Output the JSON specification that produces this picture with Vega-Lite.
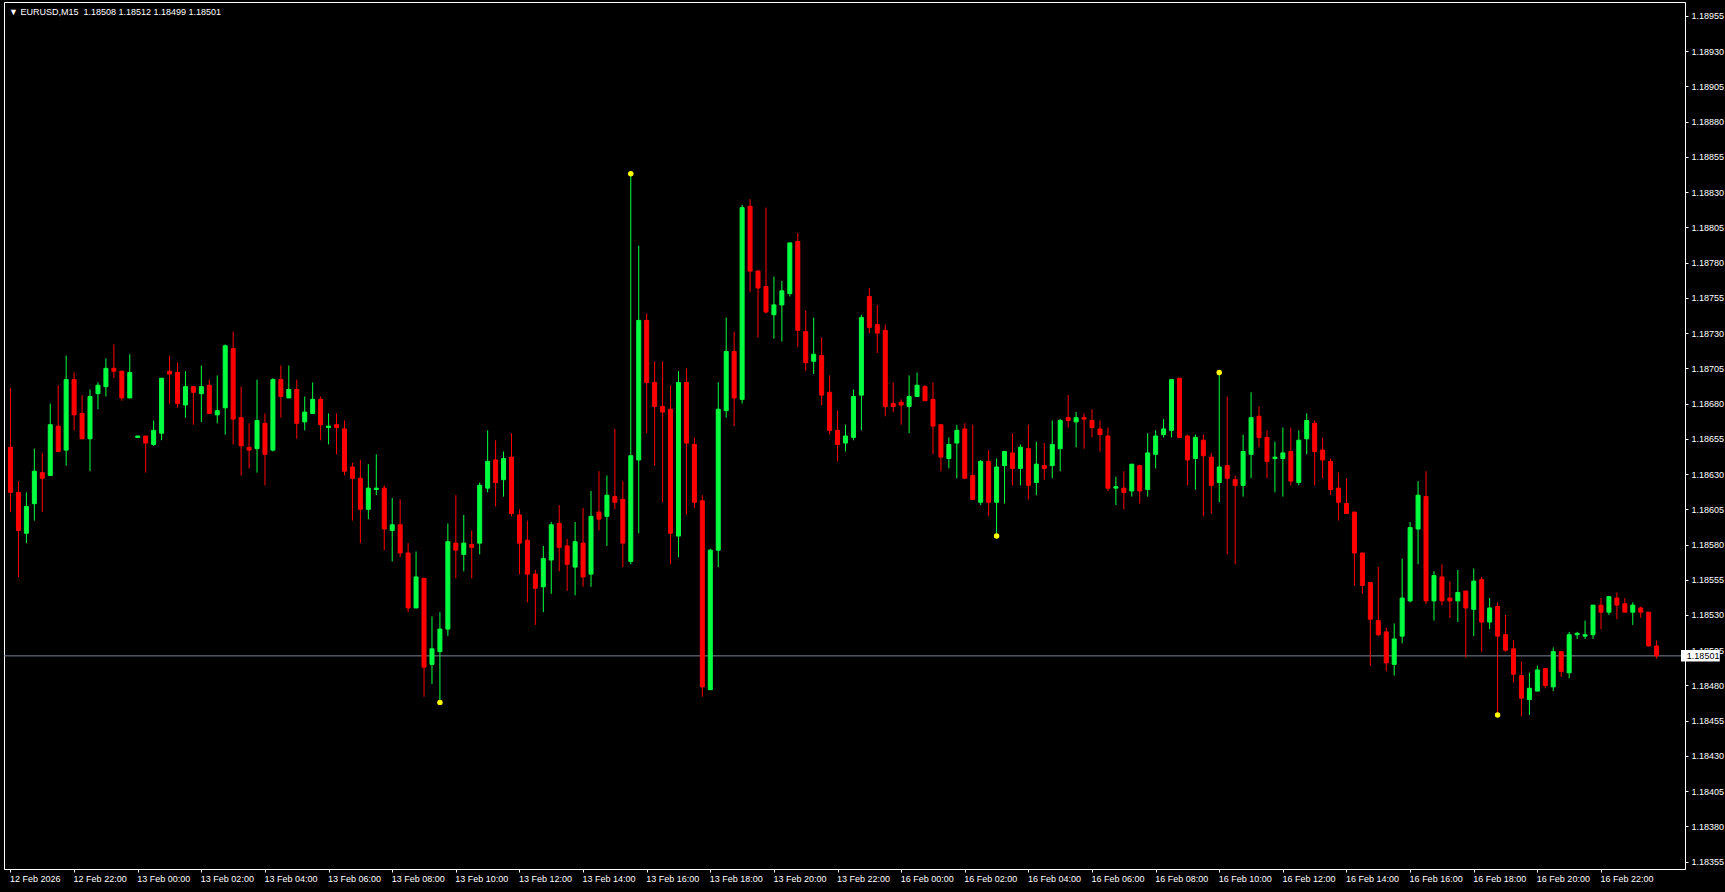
{
"$schema": "https://vega.github.io/schema/vega-lite/v6.json",
"width": 1681, "height": 867,
"autosize": {"type": "none"},
"padding": {"left": 4, "top": 2, "right": 40, "bottom": 23},
"background": "#000000",
"title": {"text": "▼ EURUSD,M15\u00a0\u00a01.18508 1.18512 1.18499 1.18501", "anchor": "start", "frame": "group", "orient": "top", "baseline": "top", "offset": -6, "dx": 5, "dy": 9, "color": "#FFFFFF", "font": "Liberation Sans", "fontSize": 9, "fontWeight": "normal"},
"config": {"view": {"stroke": "#FFFFFF", "strokeWidth": 1}, "axis": {"labelOverlap": false, "labelFlush": false, "labelBound": false, "title": null}},
"datasets": {
"bars": [
{"i":0,"o":1.18649,"h":1.18691,"l":1.18603,"c":1.18617},
{"i":1,"o":1.18617,"h":1.18625,"l":1.18557,"c":1.1859},
{"i":2,"o":1.18588,"h":1.18617,"l":1.18581,"c":1.18607},
{"i":3,"o":1.18609,"h":1.18648,"l":1.18597,"c":1.18632},
{"i":4,"o":1.18631,"h":1.18645,"l":1.18603,"c":1.18627},
{"i":5,"o":1.18629,"h":1.1868,"l":1.18629,"c":1.18665},
{"i":6,"o":1.18664,"h":1.18693,"l":1.18646,"c":1.18646},
{"i":7,"o":1.18647,"h":1.18714,"l":1.18636,"c":1.18697},
{"i":8,"o":1.18697,"h":1.18702,"l":1.18661,"c":1.18672},
{"i":9,"o":1.18673,"h":1.18686,"l":1.18655,"c":1.18655},
{"i":10,"o":1.18655,"h":1.1869,"l":1.18632,"c":1.18685},
{"i":11,"o":1.18687,"h":1.18695,"l":1.18676,"c":1.18693},
{"i":12,"o":1.18692,"h":1.18712,"l":1.18685,"c":1.18705},
{"i":13,"o":1.18705,"h":1.18722,"l":1.18698,"c":1.18703},
{"i":14,"o":1.18703,"h":1.18703,"l":1.18682,"c":1.18684},
{"i":15,"o":1.18684,"h":1.18715,"l":1.18684,"c":1.18702},
{"i":16,"o":1.18656,"h":1.18657,"l":1.18656,"c":1.18657},
{"i":17,"o":1.18657,"h":1.18657,"l":1.18631,"c":1.18652},
{"i":18,"o":1.18651,"h":1.18668,"l":1.1865,"c":1.18661},
{"i":19,"o":1.18659,"h":1.18698,"l":1.18654,"c":1.18698},
{"i":20,"o":1.18703,"h":1.18714,"l":1.1868,"c":1.18701},
{"i":21,"o":1.18702,"h":1.18709,"l":1.18677,"c":1.1868},
{"i":22,"o":1.18679,"h":1.18703,"l":1.1867,"c":1.18692},
{"i":23,"o":1.18692,"h":1.18692,"l":1.18665,"c":1.18688},
{"i":24,"o":1.18687,"h":1.18707,"l":1.18667,"c":1.18692},
{"i":25,"o":1.18693,"h":1.18697,"l":1.18673,"c":1.18673},
{"i":26,"o":1.18672,"h":1.187,"l":1.18666,"c":1.18675},
{"i":27,"o":1.18677,"h":1.18722,"l":1.18658,"c":1.18721},
{"i":28,"o":1.18719,"h":1.18731,"l":1.18651,"c":1.18669},
{"i":29,"o":1.1867,"h":1.18692,"l":1.18629,"c":1.1865},
{"i":30,"o":1.18649,"h":1.18666,"l":1.18634,"c":1.18647},
{"i":31,"o":1.18648,"h":1.18697,"l":1.18631,"c":1.18668},
{"i":32,"o":1.18666,"h":1.18673,"l":1.18622,"c":1.18644},
{"i":33,"o":1.18647,"h":1.18698,"l":1.18646,"c":1.18697},
{"i":34,"o":1.18697,"h":1.18707,"l":1.1867,"c":1.18685},
{"i":35,"o":1.18684,"h":1.18707,"l":1.18684,"c":1.1869},
{"i":36,"o":1.1869,"h":1.18697,"l":1.18655,"c":1.18666},
{"i":37,"o":1.18667,"h":1.18685,"l":1.18661,"c":1.18674},
{"i":38,"o":1.18673,"h":1.18695,"l":1.18673,"c":1.18683},
{"i":39,"o":1.18683,"h":1.18685,"l":1.18654,"c":1.18665},
{"i":40,"o":1.18663,"h":1.18673,"l":1.18651,"c":1.18664},
{"i":41,"o":1.18665,"h":1.18673,"l":1.18644,"c":1.18663},
{"i":42,"o":1.18662,"h":1.18668,"l":1.18629,"c":1.18632},
{"i":43,"o":1.18635,"h":1.18638,"l":1.18597,"c":1.18627},
{"i":44,"o":1.18627,"h":1.1864,"l":1.18581,"c":1.18605},
{"i":45,"o":1.18605,"h":1.18637,"l":1.18598,"c":1.1862},
{"i":46,"o":1.18619,"h":1.18644,"l":1.18615,"c":1.1862},
{"i":47,"o":1.1862,"h":1.18622,"l":1.18576,"c":1.18591},
{"i":48,"o":1.1859,"h":1.18613,"l":1.18568,"c":1.18594},
{"i":49,"o":1.18594,"h":1.18612,"l":1.18571,"c":1.18574},
{"i":50,"o":1.18574,"h":1.18581,"l":1.18532,"c":1.18535},
{"i":51,"o":1.18535,"h":1.18575,"l":1.18535,"c":1.18557},
{"i":52,"o":1.18556,"h":1.18556,"l":1.18472,"c":1.18493},
{"i":53,"o":1.18495,"h":1.18529,"l":1.18481,"c":1.18506},
{"i":54,"o":1.18504,"h":1.18532,"l":1.18468,"c":1.1852},
{"i":55,"o":1.1852,"h":1.18595,"l":1.18515,"c":1.18582},
{"i":56,"o":1.18581,"h":1.18615,"l":1.18556,"c":1.18576},
{"i":57,"o":1.18573,"h":1.18601,"l":1.18561,"c":1.18581},
{"i":58,"o":1.1858,"h":1.1859,"l":1.18556,"c":1.18578},
{"i":59,"o":1.18581,"h":1.18624,"l":1.18573,"c":1.18622},
{"i":60,"o":1.1862,"h":1.18661,"l":1.18617,"c":1.18639},
{"i":61,"o":1.1864,"h":1.18654,"l":1.18607,"c":1.18624},
{"i":62,"o":1.18626,"h":1.18646,"l":1.18614,"c":1.18641},
{"i":63,"o":1.18642,"h":1.18659,"l":1.186,"c":1.18602},
{"i":64,"o":1.18601,"h":1.18605,"l":1.18559,"c":1.18581},
{"i":65,"o":1.18583,"h":1.18597,"l":1.18539,"c":1.18559},
{"i":66,"o":1.18559,"h":1.18562,"l":1.18523,"c":1.18549},
{"i":67,"o":1.1855,"h":1.18579,"l":1.18532,"c":1.1857},
{"i":68,"o":1.18569,"h":1.18596,"l":1.18545,"c":1.18594},
{"i":69,"o":1.18595,"h":1.18608,"l":1.18561,"c":1.18578},
{"i":70,"o":1.18579,"h":1.18584,"l":1.18547,"c":1.18566},
{"i":71,"o":1.18564,"h":1.18596,"l":1.18544,"c":1.18582},
{"i":72,"o":1.18581,"h":1.18606,"l":1.1855,"c":1.18557},
{"i":73,"o":1.18559,"h":1.18618,"l":1.1855,"c":1.186},
{"i":74,"o":1.18603,"h":1.18632,"l":1.1859,"c":1.18598},
{"i":75,"o":1.186,"h":1.18629,"l":1.18579,"c":1.18615},
{"i":76,"o":1.18614,"h":1.18662,"l":1.18605,"c":1.1861},
{"i":77,"o":1.18612,"h":1.18625,"l":1.18564,"c":1.18581},
{"i":78,"o":1.18568,"h":1.18843,"l":1.18566,"c":1.18643},
{"i":79,"o":1.1864,"h":1.18792,"l":1.18588,"c":1.18739},
{"i":80,"o":1.18739,"h":1.18744,"l":1.18659,"c":1.18695},
{"i":81,"o":1.18695,"h":1.1871,"l":1.18636,"c":1.18678},
{"i":82,"o":1.18678,"h":1.1871,"l":1.1861,"c":1.18674},
{"i":83,"o":1.18676,"h":1.18693,"l":1.18566,"c":1.18588},
{"i":84,"o":1.18586,"h":1.18703,"l":1.18571,"c":1.18695},
{"i":85,"o":1.18695,"h":1.18705,"l":1.18601,"c":1.18652},
{"i":86,"o":1.18651,"h":1.18656,"l":1.18606,"c":1.1861},
{"i":87,"o":1.18611,"h":1.18615,"l":1.18472,"c":1.18479},
{"i":88,"o":1.18477,"h":1.18577,"l":1.18477,"c":1.18576},
{"i":89,"o":1.18576,"h":1.18695,"l":1.18564,"c":1.18676},
{"i":90,"o":1.18675,"h":1.18741,"l":1.1867,"c":1.18717},
{"i":91,"o":1.18717,"h":1.18731,"l":1.18664,"c":1.18684},
{"i":92,"o":1.18683,"h":1.18821,"l":1.1868,"c":1.18819},
{"i":93,"o":1.1882,"h":1.18825,"l":1.18759,"c":1.18774},
{"i":94,"o":1.18774,"h":1.18775,"l":1.18727,"c":1.18762},
{"i":95,"o":1.18763,"h":1.18819,"l":1.18744,"c":1.18745},
{"i":96,"o":1.18743,"h":1.1877,"l":1.18726,"c":1.1875},
{"i":97,"o":1.1875,"h":1.18767,"l":1.18724,"c":1.1876},
{"i":98,"o":1.18758,"h":1.18794,"l":1.18756,"c":1.18794},
{"i":99,"o":1.18795,"h":1.18801,"l":1.1872,"c":1.18732},
{"i":100,"o":1.18731,"h":1.18746,"l":1.18703,"c":1.18709},
{"i":101,"o":1.1871,"h":1.18741,"l":1.18701,"c":1.18715},
{"i":102,"o":1.18714,"h":1.18727,"l":1.18679,"c":1.18686},
{"i":103,"o":1.18688,"h":1.187,"l":1.18658,"c":1.18661},
{"i":104,"o":1.18661,"h":1.18675,"l":1.18639,"c":1.18651},
{"i":105,"o":1.18652,"h":1.18665,"l":1.18646,"c":1.18657},
{"i":106,"o":1.18656,"h":1.1869,"l":1.18654,"c":1.18685},
{"i":107,"o":1.18686,"h":1.18743,"l":1.18661,"c":1.18741},
{"i":108,"o":1.18756,"h":1.18762,"l":1.1873,"c":1.18734},
{"i":109,"o":1.18736,"h":1.1875,"l":1.18716,"c":1.1873},
{"i":110,"o":1.18732,"h":1.18736,"l":1.18671,"c":1.18678},
{"i":111,"o":1.1868,"h":1.18695,"l":1.18674,"c":1.18678},
{"i":112,"o":1.18681,"h":1.18683,"l":1.18665,"c":1.18679},
{"i":113,"o":1.18678,"h":1.187,"l":1.18659,"c":1.18685},
{"i":114,"o":1.18685,"h":1.18702,"l":1.18685,"c":1.18693},
{"i":115,"o":1.18692,"h":1.18693,"l":1.18682,"c":1.18682},
{"i":116,"o":1.18683,"h":1.18695,"l":1.18644,"c":1.18664},
{"i":117,"o":1.18665,"h":1.18665,"l":1.18632,"c":1.18642},
{"i":118,"o":1.18641,"h":1.18656,"l":1.18634,"c":1.18651},
{"i":119,"o":1.18652,"h":1.18665,"l":1.18627,"c":1.18661},
{"i":120,"o":1.18662,"h":1.18666,"l":1.18627,"c":1.18627},
{"i":121,"o":1.18629,"h":1.18665,"l":1.18612,"c":1.18612},
{"i":122,"o":1.1861,"h":1.1864,"l":1.18608,"c":1.18639},
{"i":123,"o":1.18639,"h":1.18647,"l":1.186,"c":1.1861},
{"i":124,"o":1.1861,"h":1.18641,"l":1.18586,"c":1.18635},
{"i":125,"o":1.18636,"h":1.18646,"l":1.18609,"c":1.18646},
{"i":126,"o":1.18645,"h":1.18659,"l":1.18622,"c":1.18634},
{"i":127,"o":1.18634,"h":1.18651,"l":1.18622,"c":1.18649},
{"i":128,"o":1.18648,"h":1.18665,"l":1.18612,"c":1.18622},
{"i":129,"o":1.18624,"h":1.18653,"l":1.18615,"c":1.18637},
{"i":130,"o":1.18636,"h":1.18652,"l":1.18626,"c":1.18634},
{"i":131,"o":1.18636,"h":1.18668,"l":1.18627,"c":1.18651},
{"i":132,"o":1.18648,"h":1.18669,"l":1.18632,"c":1.18668},
{"i":133,"o":1.1867,"h":1.18686,"l":1.18663,"c":1.18668},
{"i":134,"o":1.18667,"h":1.18674,"l":1.18649,"c":1.1867},
{"i":135,"o":1.1867,"h":1.18673,"l":1.18648,"c":1.18669},
{"i":136,"o":1.18668,"h":1.18676,"l":1.18656,"c":1.18663},
{"i":137,"o":1.18662,"h":1.18668,"l":1.18646,"c":1.18658},
{"i":138,"o":1.18657,"h":1.18663,"l":1.18618,"c":1.1862},
{"i":139,"o":1.1862,"h":1.18628,"l":1.18608,"c":1.18621},
{"i":140,"o":1.1862,"h":1.18632,"l":1.18605,"c":1.18617},
{"i":141,"o":1.18618,"h":1.18637,"l":1.18614,"c":1.18637},
{"i":142,"o":1.18636,"h":1.18636,"l":1.18609,"c":1.18618},
{"i":143,"o":1.18619,"h":1.18659,"l":1.18614,"c":1.18645},
{"i":144,"o":1.18644,"h":1.18661,"l":1.18634,"c":1.18657},
{"i":145,"o":1.18658,"h":1.18669,"l":1.18656,"c":1.18662},
{"i":146,"o":1.18661,"h":1.18697,"l":1.18656,"c":1.18697},
{"i":147,"o":1.18698,"h":1.18698,"l":1.18656,"c":1.18656},
{"i":148,"o":1.18657,"h":1.18658,"l":1.18622,"c":1.1864},
{"i":149,"o":1.18641,"h":1.18658,"l":1.18619,"c":1.18656},
{"i":150,"o":1.18654,"h":1.18658,"l":1.186,"c":1.18643},
{"i":151,"o":1.18642,"h":1.18645,"l":1.18602,"c":1.18622},
{"i":152,"o":1.18624,"h":1.18702,"l":1.1861,"c":1.18635},
{"i":153,"o":1.18636,"h":1.18685,"l":1.18573,"c":1.18627},
{"i":154,"o":1.18626,"h":1.18629,"l":1.18566,"c":1.18622},
{"i":155,"o":1.18622,"h":1.18658,"l":1.18614,"c":1.18646},
{"i":156,"o":1.18644,"h":1.18688,"l":1.18627,"c":1.1867},
{"i":157,"o":1.18671,"h":1.18678,"l":1.18649,"c":1.18656},
{"i":158,"o":1.18656,"h":1.18661,"l":1.18627,"c":1.18639},
{"i":159,"o":1.18641,"h":1.18653,"l":1.18617,"c":1.18642},
{"i":160,"o":1.18641,"h":1.18663,"l":1.18614,"c":1.18645},
{"i":161,"o":1.18646,"h":1.18663,"l":1.18622,"c":1.18625},
{"i":162,"o":1.18624,"h":1.18661,"l":1.18622,"c":1.18654},
{"i":163,"o":1.18655,"h":1.18673,"l":1.18644,"c":1.18668},
{"i":164,"o":1.18666,"h":1.18668,"l":1.18622,"c":1.18646},
{"i":165,"o":1.18647,"h":1.18656,"l":1.18627,"c":1.1864},
{"i":166,"o":1.18639,"h":1.18641,"l":1.18615,"c":1.18619},
{"i":167,"o":1.1862,"h":1.18631,"l":1.18597,"c":1.1861},
{"i":168,"o":1.18609,"h":1.18627,"l":1.18602,"c":1.18602},
{"i":169,"o":1.18603,"h":1.18603,"l":1.18551,"c":1.18574},
{"i":170,"o":1.18574,"h":1.18574,"l":1.18545,"c":1.18551},
{"i":171,"o":1.18553,"h":1.18553,"l":1.18494,"c":1.18527},
{"i":172,"o":1.18526,"h":1.18564,"l":1.18515,"c":1.18516},
{"i":173,"o":1.18518,"h":1.18521,"l":1.1849,"c":1.18496},
{"i":174,"o":1.18495,"h":1.18524,"l":1.18487,"c":1.18513},
{"i":175,"o":1.18515,"h":1.1857,"l":1.1851,"c":1.18542},
{"i":176,"o":1.1854,"h":1.18596,"l":1.18539,"c":1.18592},
{"i":177,"o":1.18591,"h":1.18625,"l":1.18566,"c":1.18615},
{"i":178,"o":1.18614,"h":1.18632,"l":1.18538,"c":1.1854},
{"i":179,"o":1.1854,"h":1.18561,"l":1.18526,"c":1.18558},
{"i":180,"o":1.18557,"h":1.18566,"l":1.18537,"c":1.1854},
{"i":181,"o":1.18542,"h":1.18554,"l":1.18528,"c":1.1854},
{"i":182,"o":1.1854,"h":1.18562,"l":1.18525,"c":1.18546},
{"i":183,"o":1.18547,"h":1.18547,"l":1.185,"c":1.18535},
{"i":184,"o":1.18534,"h":1.18563,"l":1.18515,"c":1.18554},
{"i":185,"o":1.18555,"h":1.18557,"l":1.18504,"c":1.18525},
{"i":186,"o":1.18525,"h":1.18542,"l":1.1852,"c":1.18535},
{"i":187,"o":1.18536,"h":1.18539,"l":1.18459,"c":1.18515},
{"i":188,"o":1.18516,"h":1.1853,"l":1.18504,"c":1.18505},
{"i":189,"o":1.18506,"h":1.18512,"l":1.18482,"c":1.18488},
{"i":190,"o":1.18487,"h":1.18497,"l":1.18458,"c":1.18471},
{"i":191,"o":1.1847,"h":1.18489,"l":1.18459,"c":1.18478},
{"i":192,"o":1.18476,"h":1.18494,"l":1.18476,"c":1.18491},
{"i":193,"o":1.18492,"h":1.18492,"l":1.18478,"c":1.1848},
{"i":194,"o":1.18479,"h":1.18507,"l":1.18476,"c":1.18504},
{"i":195,"o":1.18504,"h":1.18504,"l":1.18486,"c":1.1849},
{"i":196,"o":1.18489,"h":1.18518,"l":1.18485,"c":1.18516},
{"i":197,"o":1.18516,"h":1.18518,"l":1.18513,"c":1.18517},
{"i":198,"o":1.18515,"h":1.18526,"l":1.18513,"c":1.18516},
{"i":199,"o":1.18516,"h":1.18537,"l":1.18513,"c":1.18537},
{"i":200,"o":1.18537,"h":1.18542,"l":1.1852,"c":1.18532},
{"i":201,"o":1.18532,"h":1.18543,"l":1.1853,"c":1.18543},
{"i":202,"o":1.18542,"h":1.18546,"l":1.18527,"c":1.18537},
{"i":203,"o":1.18538,"h":1.18542,"l":1.18532,"c":1.18532},
{"i":204,"o":1.18532,"h":1.18539,"l":1.18523,"c":1.18537},
{"i":205,"o":1.18535,"h":1.18536,"l":1.18528,"c":1.18532},
{"i":206,"o":1.18532,"h":1.18532,"l":1.18508,"c":1.18508},
{"i":207,"o":1.18508,"h":1.18512,"l":1.18499,"c":1.18501}
],
"extremes": [
{"i":54,"p":1.18468},
{"i":78,"p":1.18843},
{"i":124,"p":1.18586},
{"i":152,"p":1.18702},
{"i":187,"p":1.18459}
],
"bid": [{"p":1.18501}]
},
"layer": [
{
"data": {"name": "bid"},
"mark": {"type": "rule", "color": "#778899", "strokeWidth": 1},
"encoding": {
"y": {"field": "p", "type": "quantitative", "scale": {"domain": [1.1834979, 1.1896491], "nice": false, "zero": false}, "axis": {"title": null, "labelOverlap": false, "tickCount": 60}}
}
},
{
"data": {"name": "bars"},
"mark": {"type": "rule", "strokeWidth": 1},
"encoding": {
"x": {"field": "i", "type": "quantitative", "scale": {"domain": [-0.1875, 209.9375], "nice": false, "zero": false},
"axis": {"values": [0,8,16,24,32,40,48,56,64,72,80,88,96,104,112,120,128,136,144,152,160,168,176,184,192,200],
"tickCount": 60,
"labelExpr": "['12 Feb 2026','12 Feb 22:00','13 Feb 00:00','13 Feb 02:00','13 Feb 04:00','13 Feb 06:00','13 Feb 08:00','13 Feb 10:00','13 Feb 12:00','13 Feb 14:00','13 Feb 16:00','13 Feb 18:00','13 Feb 20:00','13 Feb 22:00','16 Feb 00:00','16 Feb 02:00','16 Feb 04:00','16 Feb 06:00','16 Feb 08:00','16 Feb 10:00','16 Feb 12:00','16 Feb 14:00','16 Feb 16:00','16 Feb 18:00','16 Feb 20:00','16 Feb 22:00'][round(datum.value/8)]",
"labelAlign": "left", "labelBaseline": "top", "labelPadding": 2, "labelOffset": -1, "labelFlush": false, "labelOverlap": false,
"labelFont": "Liberation Sans", "labelFontSize": 9, "labelColor": "#FFFFFF",
"tickColor": "#FFFFFF", "tickSize": 3, "domainColor": "#FFFFFF", "grid": false, "title": null}},
"y": {"field": "l", "type": "quantitative", "scale": {"domain": [1.1834979, 1.1896491], "nice": false, "zero": false},
"axis": {"orient": "right", "values": [1.18355,1.1838,1.18405,1.1843,1.18455,1.1848,1.18505,1.1853,1.18555,1.1858,1.18605,1.1863,1.18655,1.1868,1.18705,1.1873,1.18755,1.1878,1.18805,1.1883,1.18855,1.1888,1.18905,1.1893,1.18955],
"tickCount": 60,
"format": ".5f", "labelFont": "Liberation Sans", "labelFontSize": 9, "labelColor": "#FFFFFF", "labelPadding": 3, "labelOverlap": false, "labelFlush": false,
"tickColor": "#FFFFFF", "tickSize": 3, "domainColor": "#FFFFFF", "grid": false, "title": null}},
"y2": {"field": "h"},
"color": {"condition": {"test": "datum.c >= datum.o", "value": "#00FF40"}, "value": "#FF0000"}
}
},
{
"data": {"name": "bars"},
"mark": {"type": "bar", "size": 4, "strokeWidth": 1},
"encoding": {
"x": {"field": "i", "type": "quantitative", "scale": {"domain": [-0.1875, 209.9375], "nice": false, "zero": false}, "axis": {"title": null, "labelOverlap": false, "tickCount": 60}},
"y": {"field": "o", "type": "quantitative", "scale": {"domain": [1.1834979, 1.1896491], "nice": false, "zero": false}, "axis": {"title": null, "labelOverlap": false, "tickCount": 60}},
"y2": {"field": "c"},
"fill": {"condition": {"test": "datum.c >= datum.o", "value": "#00FF40"}, "value": "#FF0000"},
"stroke": {"condition": {"test": "datum.c >= datum.o", "value": "#00FF40"}, "value": "#FF0000"}
}
},
{
"data": {"name": "extremes"},
"mark": {"type": "point", "filled": true, "size": 30, "color": "#FFFF00", "opacity": 1},
"encoding": {
"x": {"field": "i", "type": "quantitative", "scale": {"domain": [-0.1875, 209.9375], "nice": false, "zero": false}, "axis": {"title": null, "labelOverlap": false, "tickCount": 60}},
"y": {"field": "p", "type": "quantitative", "scale": {"domain": [1.1834979, 1.1896491], "nice": false, "zero": false}, "axis": {"title": null, "labelOverlap": false, "tickCount": 60}}
}
},
{
"data": {"name": "bid"},
"mark": {"type": "rect", "color": "#FFFFFF", "clip": false},
"encoding": {
"x": {"datum": 210.06, "type": "quantitative", "scale": {"domain": [-0.1875, 209.9375], "nice": false, "zero": false}, "axis": {"title": null, "labelOverlap": false, "tickCount": 60}},
"x2": {"datum": 214.94},
"y": {"datum": 1.185052, "type": "quantitative", "scale": {"domain": [1.1834979, 1.1896491], "nice": false, "zero": false}, "axis": {"title": null, "labelOverlap": false, "tickCount": 60}},
"y2": {"datum": 1.18497}
}
},
{
"data": {"name": "bid"},
"mark": {"type": "text", "color": "#000000", "align": "left", "baseline": "middle", "font": "Liberation Sans", "fontSize": 9, "clip": false},
"encoding": {
"x": {"datum": 210.8, "type": "quantitative", "scale": {"domain": [-0.1875, 209.9375], "nice": false, "zero": false}, "axis": {"title": null, "labelOverlap": false, "tickCount": 60}},
"y": {"field": "p", "type": "quantitative", "scale": {"domain": [1.1834979, 1.1896491], "nice": false, "zero": false}, "axis": {"title": null, "labelOverlap": false, "tickCount": 60}},
"text": {"field": "p", "format": ".5f"}
}
}
]
}
